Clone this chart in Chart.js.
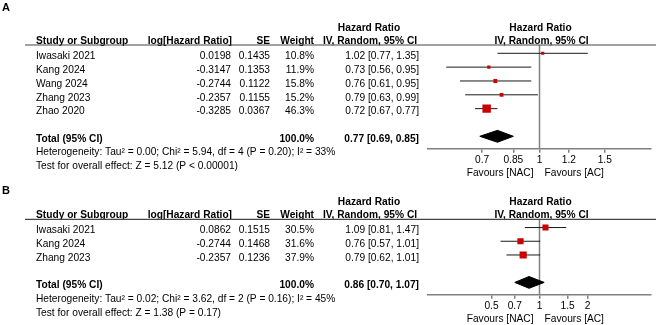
<!DOCTYPE html>
<html>
<head>
<meta charset="utf-8">
<script src="https://cdn.jsdelivr.net/npm/chart.js@4.4.1/dist/chart.umd.min.js"></script>
<style>
  body { margin: 0; background: #fff; }
  #wrapA { position: absolute; left: 0; top: 0; }
  #wrapB { position: absolute; left: 0; top: 182px; }
</style>
</head>
<body>
<div id="wrapA"><canvas id="ForestA" width="661" height="182"></canvas></div>
<div id="wrapB"><canvas id="ForestB" width="661" height="143"></canvas></div>
<script>
// Panel A data
const studiesA = ['Iwasaki 2021', 'Kang 2024', 'Wang 2024', 'Zhang 2023', 'Zhao 2020'];
const logHrA = [0.0198, -0.3147, -0.2744, -0.2357, -0.3285];
const seA = [0.1435, 0.1353, 0.1122, 0.1155, 0.0367];
const weightA = [10.8, 11.9, 15.8, 15.2, 46.3];
const hrA = [1.02, 0.73, 0.76, 0.79, 0.72];
const lowA = [0.77, 0.56, 0.61, 0.63, 0.67];
const highA = [1.35, 0.95, 0.95, 0.99, 0.77];
const totalA = [0.77, 0.69, 0.85]; // estimate, low, high
const hetA = 'Heterogeneity: Tau\u00b2 = 0.00; Chi\u00b2 = 5.94, df = 4 (P = 0.20); I\u00b2 = 33%';
const testA = 'Test for overall effect: Z = 5.12 (P < 0.00001)';
const ticksA = [0.7, 0.85, 1, 1.2, 1.5];

// Panel B data
const studiesB = ['Iwasaki 2021', 'Kang 2024', 'Zhang 2023'];
const logHrB = [0.0862, -0.2744, -0.2357];
const seB = [0.1515, 0.1468, 0.1236];
const weightB = [30.5, 31.6, 37.9];
const hrB = [1.09, 0.76, 0.79];
const lowB = [0.81, 0.57, 0.62];
const highB = [1.47, 1.01, 1.01];
const totalB = [0.86, 0.70, 1.07];
const hetB = 'Heterogeneity: Tau\u00b2 = 0.02; Chi\u00b2 = 3.62, df = 2 (P = 0.16); I\u00b2 = 45%';
const testB = 'Test for overall effect: Z = 1.38 (P = 0.17)';
const ticksB = [0.5, 0.7, 1, 1.5, 2];

const FONT = '"Liberation Sans", Arial, sans-serif';
const FSIZE = 10.2;
Chart.defaults.font.family = FONT;
Chart.defaults.font.size = FSIZE;
Chart.defaults.color = '#000';

const ciText = (e, l, h) => e.toFixed(2) + ' [' + l.toFixed(2) + ', ' + h.toFixed(2) + ']';
const boxSide = w => 1.5 + 0.15 * w;

// draws the study table, header rule, the line of no effect and the favours labels
const tablePlugin = {
    id: 'table',
    beforeDatasetsDraw(chart) {
        const { ctx, chartArea, scales: { x } } = chart;
        const x1 = x.getPixelForValue(1);
        ctx.save();
        ctx.strokeStyle = '#808080';
        ctx.lineWidth = 1.5;
        ctx.beginPath();
        ctx.moveTo(x1, chartArea.top);
        ctx.lineTo(x1, chartArea.bottom);
        ctx.stroke();
        ctx.restore();
    },
    afterDraw(chart, args, o) {
        const { ctx, chartArea, scales: { x, y } } = chart;
        const top = chartArea.top;
        const x1 = x.getPixelForValue(1);
        ctx.save();
        function txt(s, px, py, align, bold, size) {
            ctx.font = (bold ? 'bold ' : '') + (size || FSIZE) + 'px ' + FONT;
            ctx.textAlign = align;
            ctx.textBaseline = 'middle';
            ctx.fillStyle = '#000';
            ctx.fillText(s, px, py);
        }
        txt(o.letter, 2, o.letterY, 'left', true, 11);

        // header
        txt('Study or Subgroup', 36, top - 4, 'left', true);
        txt('log[Hazard Ratio]', 232, top - 4, 'right', true);
        txt('SE', 270, top - 4, 'right', true);
        txt('Weight', 314, top - 4, 'right', true);
        txt('Hazard Ratio', 369, top - 17, 'center', true);
        txt('IV, Random, 95% CI', 370, top - 4, 'center', true);
        txt('Hazard Ratio', x1 + 1, top - 17, 'center', true);
        txt('IV, Random, 95% CI', x1 + 2, top - 4, 'center', true);

        ctx.strokeStyle = '#444';
        ctx.lineWidth = 1.2;
        ctx.beginPath();
        ctx.moveTo(25, top);
        ctx.lineTo(656, top);
        ctx.stroke();

        // study rows
        o.studies.forEach((s, i) => {
            const py = y.getPixelForValue(i) + 3;
            txt(s, 36, py, 'left');
            txt(o.logHr[i].toFixed(4), 231, py, 'right');
            txt(o.se[i].toFixed(4), 270, py, 'right');
            txt(o.weight[i].toFixed(1) + '%', 314, py, 'right');
            txt(ciText(o.hr[i], o.low[i], o.high[i]), 419, py, 'right');
        });

        // total rows
        const ty = y.getPixelForValue(o.totalRow) + 2.5;
        txt('Total (95% CI)', 36, ty, 'left', true);
        txt('100.0%', 314, ty, 'right', true);
        txt(ciText(o.total[0], o.total[1], o.total[2]), 419, ty, 'right', true);
        txt(o.het, 36, ty + 13.8, 'left');
        txt(o.test, 36, ty + 27.8, 'left');

        // favours
        const fy = chartArea.bottom + 24;
        txt('Favours [NAC]', x1 - 6, fy, 'right');
        txt('Favours [AC]', x1 + 5, fy, 'left');
        ctx.restore();
    }
};

function forestDatasets(hr, low, high, weight, total, totalRow) {
    let sets = [];
    // boxes first so they are drawn on top
    sets.push({
        data: hr.map((v, i) => ({ x: v, y: i })),
        pointStyle: 'rect',
        pointRadius: c => boxSide(weight[c.dataIndex]) / Math.SQRT2,
        backgroundColor: '#cc0000',
        borderColor: '#cc0000',
        borderWidth: 0
    });
    // pooled diamond
    sets.push({
        data: [
            { x: total[1], y: totalRow },
            { x: total[0], y: totalRow - 0.43 },
            { x: total[2], y: totalRow },
            { x: total[0], y: totalRow + 0.43 },
            { x: total[1], y: totalRow }
        ],
        showLine: true,
        fill: 'shape',
        backgroundColor: '#000',
        borderColor: '#000',
        borderWidth: 1,
        pointRadius: 0,
        tension: 0
    });
    // confidence intervals
    low.forEach((l, i) => {
        sets.push({
            data: [{ x: l, y: i }, { x: high[i], y: i }],
            showLine: true,
            borderColor: '#1a1a1a',
            borderWidth: 1,
            pointRadius: 0
        });
    });
    return sets;
}

function forestOptions(xmin, xmax, tickVals, ymin, ymax, pad, table) {
    return {
        responsive: false,
        animation: false,
        layout: { padding: pad },
        plugins: {
            legend: { display: false },
            tooltip: { enabled: false },
            table: table
        },
        scales: {
            x: {
                type: 'logarithmic',
                min: xmin,
                max: xmax,
                afterBuildTicks: s => { s.ticks = tickVals.map(v => ({ value: v })); },
                ticks: {
                    callback: v => String(v),
                    autoSkip: false,
                    maxRotation: 0,
                    padding: 1,
                    color: '#000'
                },
                grid: { drawOnChartArea: false, tickLength: 4, color: '#808080', lineWidth: 1.5 },
                border: { color: '#808080', width: 1.5 }
            },
            y: {
                type: 'linear',
                reverse: true,
                min: ymin,
                max: ymax,
                display: false
            }
        }
    };
}

// Panel A
new Chart(document.getElementById('ForestA').getContext('2d'), {
    type: 'scatter',
    data: { datasets: forestDatasets(hrA, lowA, highA, weightA, totalA, 6) },
    options: forestOptions(0.5, 2, ticksA, -0.6, 6.9,
        { left: 428, right: 10, top: 45, bottom: 15 },
        { letter: 'A', letterY: 7.5, studies: studiesA, logHr: logHrA, se: seA, weight: weightA,
          hr: hrA, low: lowA, high: highA, total: totalA, totalRow: 6, het: hetA, test: testA }),
    plugins: [tablePlugin]
});

// Panel B
new Chart(document.getElementById('ForestB').getContext('2d'), {
    type: 'scatter',
    data: { datasets: forestDatasets(hrB, lowB, highB, weightB, totalB, 4) },
    options: forestOptions(0.2, 5, ticksB, -0.6, 4.9,
        { left: 428, right: 10, top: 37.3, bottom: 12 },
        { letter: 'B', letterY: 9, studies: studiesB, logHr: logHrB, se: seB, weight: weightB,
          hr: hrB, low: lowB, high: highB, total: totalB, totalRow: 4, het: hetB, test: testB }),
    plugins: [tablePlugin]
});
</script>
</body>
</html>
